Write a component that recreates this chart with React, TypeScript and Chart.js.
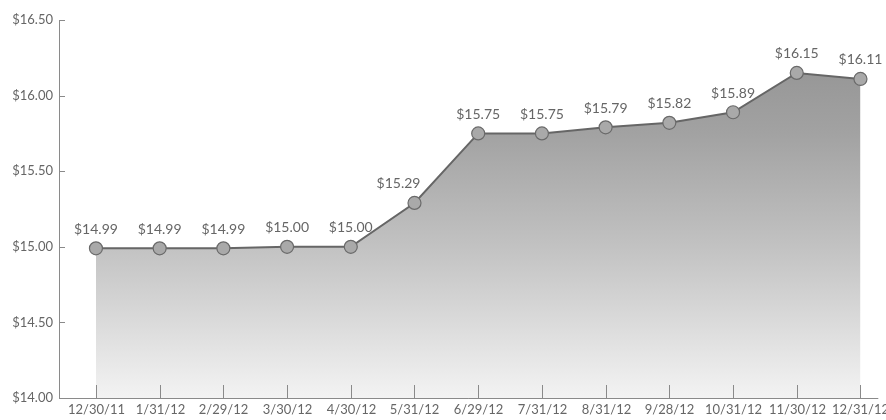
import { useEffect, useRef } from 'react';
import { Chart, registerables } from 'chart.js';
Chart.register(...registerables);

const dates = ['12/30/11', '1/31/12', '2/29/12', '3/30/12', '4/30/12', '5/31/12', '6/29/12', '7/31/12', '8/31/12', '9/28/12', '10/31/12', '11/30/12', '12/31/12'];
const prices = [14.99, 14.99, 14.99, 15.0, 15.0, 15.29, 15.75, 15.75, 15.79, 15.82, 15.89, 16.15, 16.11];
const yMin = 14.0;
const yMax = 16.5;
const yStep = 0.5;

const FONT = 'Lato, "Open Sans", sans-serif';
const TEXT = '#666666';
const AXIS = '#8a8a8a';

const decor = {
  id: 'decor',
  afterDatasetsDraw(chart: any) {
    const { ctx, chartArea, scales } = chart;
    const x = scales.x;
    const y = scales.y;
    ctx.save();
    ctx.strokeStyle = AXIS;
    ctx.lineWidth = 1;
    // axes lines
    ctx.beginPath();
    ctx.moveTo(chartArea.left + 0.5, chartArea.top);
    ctx.lineTo(chartArea.left + 0.5, chartArea.bottom + 0.5);
    ctx.lineTo(chartArea.right, chartArea.bottom + 0.5);
    ctx.stroke();
    // y tick marks (inner)
    y.ticks.forEach((t: any) => {
      const py = Math.round(y.getPixelForValue(t.value)) + 0.5;
      ctx.beginPath();
      ctx.moveTo(chartArea.left, py);
      ctx.lineTo(chartArea.left + 6, py);
      ctx.stroke();
    });
    // x tick marks (inner) and labels
    ctx.fillStyle = TEXT;
    ctx.font = `13px ${FONT}`;
    ctx.textAlign = 'center';
    ctx.textBaseline = 'middle';
    dates.forEach((d, i) => {
      const px = Math.round(x.getPixelForValue(i)) + 0.5;
      ctx.beginPath();
      ctx.moveTo(px, chartArea.bottom - 13);
      ctx.lineTo(px, chartArea.bottom);
      ctx.stroke();
      ctx.fillText(d, px, chartArea.bottom + 12);
    });
    // data labels
    const meta = chart.getDatasetMeta(0);
    ctx.font = `14px ${FONT}`;
    meta.data.forEach((pt: any, i: number) => {
      // the label on the steep rise sits left of its point, clear of the line
      const dx = i === 5 ? -16 : 0;
      ctx.fillText('$' + prices[i].toFixed(2), pt.x + dx, pt.y - 19);
    });
    ctx.restore();
  },
};

export default function App() {
  const ref = useRef<HTMLCanvasElement | null>(null);
  useEffect(() => {
    document.body.style.margin = '0';
    const canvas = ref.current;
    if (!canvas) return;
    const chart = new Chart(canvas, {
      type: 'line',
      data: {
        datasets: [
          {
            data: prices.map((v, i) => ({ x: i, y: v })),
            borderColor: '#666666',
            borderWidth: 2,
            pointRadius: 6.5,
            pointBorderWidth: 1.2,
            pointBackgroundColor: '#a9a9a9',
            pointBorderColor: '#6a6a6a',
            fill: 'start',
            tension: 0,
            backgroundColor: (c: any) => {
              const { chart: ch } = c;
              const area = ch.chartArea;
              if (!area) return 'rgba(170,170,170,0.8)';
              const g = ch.ctx.createLinearGradient(0, area.top, 0, area.bottom);
              g.addColorStop(0, '#8e8e8e');
              g.addColorStop(0.3, '#a2a2a2');
              g.addColorStop(0.6, '#c2c2c2');
              g.addColorStop(1, '#f3f3f3');
              return g;
            },
          },
        ],
      },
      options: {
        responsive: false,
        animation: false,
        layout: { padding: { top: 20, right: 6, left: 0, bottom: 0 } },
        plugins: { legend: { display: false }, tooltip: { enabled: false } },
        scales: {
          x: {
            type: 'linear',
            min: -0.58,
            max: 12.28,
            grid: { display: false },
            border: { display: false },
            ticks: { display: false, stepSize: 1, includeBounds: false },
            afterFit: (s: any) => {
              s.height = 22;
            },
          },
          y: {
            min: yMin,
            max: yMax,
            grid: { display: false, drawTicks: false },
            border: { display: false },
            ticks: {
              stepSize: yStep,
              padding: 6,
              color: TEXT,
              font: { family: FONT, size: 13 },
              callback: (v: any) => '$' + Number(v).toFixed(2),
            },
            afterFit: (s: any) => {
              s.width = 59;
            },
          },
        },
      },
      plugins: [decor],
    });
    return () => chart.destroy();
  }, []);
  return <canvas ref={ref} width={886} height={420} style={{ display: 'block' }} />;
}
